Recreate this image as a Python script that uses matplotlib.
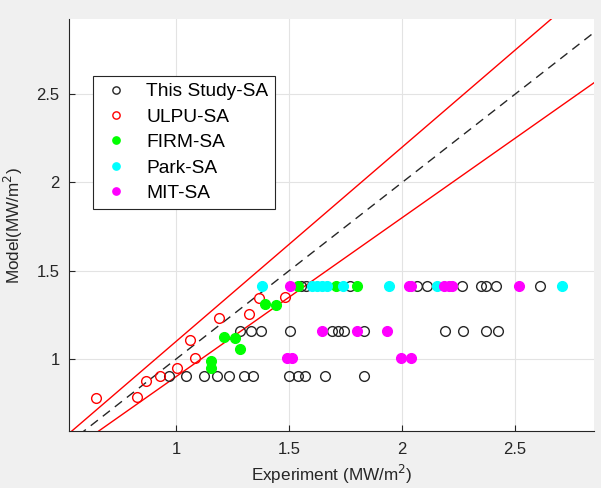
import matplotlib
matplotlib.use("Agg")
import matplotlib.pyplot as plt
import numpy as np

plt.rcParams['font.family'] = ['Liberation Sans', 'DejaVu Sans']

# --- data ---
this_x = [0.966, 1.043, 1.121, 1.180, 1.234, 1.300, 1.340, 1.498, 1.538, 1.569, 1.656, 1.830,
          1.281, 1.328, 1.375, 1.502, 1.691, 1.717, 1.742, 1.830, 2.189, 2.269, 2.370, 2.424,
          1.550, 1.576, 1.768, 2.066, 2.111, 2.263, 2.348, 2.373, 2.418, 2.610]
this_y = [0.90] * 12 + [1.155] * 12 + [1.41] * 10

ulpu_x = [0.645, 0.826, 0.866, 0.929, 1.003, 1.084, 1.062, 1.188, 1.322, 1.365, 1.483]
ulpu_y = [0.777, 0.781, 0.875, 0.900, 0.947, 1.006, 1.105, 1.230, 1.252, 1.344, 1.350]

firm_x = [1.154, 1.154, 1.210, 1.258, 1.281, 1.394, 1.439, 1.537, 1.705, 1.801]
firm_y = [0.947, 0.989, 1.121, 1.117, 1.057, 1.312, 1.306, 1.41, 1.41, 1.41]

park_x = [1.377, 1.601, 1.621, 1.643, 1.669, 1.736, 1.940, 2.156, 2.710]
park_y = [1.41] * 9

mit_x = [1.505, 2.030, 2.040, 2.185, 2.207, 2.222, 2.517,
         1.646, 1.798, 1.934,
         1.491, 1.513, 1.993, 2.040]
mit_y = [1.41] * 7 + [1.155] * 3 + [1.004] * 4

xticks = [1, 1.5, 2, 2.5]
yticks = [1, 1.5, 2, 2.5]
xlim = (0.525, 2.85)
ylim = (0.59, 2.925)

# --- figure ---
fig = plt.figure(figsize=(6.01, 4.88), dpi=100, facecolor='#f0f0f0')
ax = fig.add_axes([0.1153, 0.1168, 0.873, 0.8436])
ax.set_facecolor('white')

lx = np.array([0.3, 3.0])
ax.plot(lx, 1.1 * lx, color='red', lw=1.0, zorder=2)
ax.plot(lx, 0.9 * lx, color='red', lw=1.0, zorder=2)
ax.plot(lx, lx, color='#262626', lw=1.0, ls=(0, (6.5, 4.5)), zorder=2)

ms = 7.0
ax.plot(this_x, this_y, 'o', mfc='none', mec='#262626', mew=1.0, ms=ms, label='This Study-SA', zorder=3)
ax.plot(ulpu_x, ulpu_y, 'o', mfc='none', mec='red', mew=1.0, ms=ms, label='ULPU-SA', zorder=3)
ax.plot(firm_x, firm_y, 'o', mfc='#00ff00', mec='#00ff00', mew=1.0, ms=ms, label='FIRM-SA', zorder=3)
ax.plot(park_x, park_y, 'o', mfc='#00ffff', mec='#00ffff', mew=1.0, ms=ms, label='Park-SA', zorder=3)
ax.plot(mit_x, mit_y, 'o', mfc='#ff00ff', mec='#ff00ff', mew=1.0, ms=ms, label='MIT-SA', zorder=3)

ax.set_xlim(*xlim)
ax.set_ylim(*ylim)
ax.set_xticks(xticks)
ax.set_xticklabels(['1', '1.5', '2', '2.5'])
ax.set_yticks(yticks)
ax.set_yticklabels(['1', '1.5', '2', '2.5'])
ax.grid(True, color='#e3e3e3', lw=0.8, zorder=0)
ax.set_axisbelow(True)
ax.tick_params(direction='in', length=4, width=0.8, colors='#262626', labelsize=12, pad=8)
ax.tick_params(axis='y', pad=7)
for s in ['top', 'right']:
    ax.spines[s].set_visible(False)
for s in ['left', 'bottom']:
    ax.spines[s].set_color('#262626')
    ax.spines[s].set_linewidth(0.8)

ax.set_xlabel('Experiment (MW/m$^2$)', fontsize=12.3, color='#262626', labelpad=4)
ax.set_ylabel('Model(MW/m$^2$)', fontsize=12.3, color='#262626')
ax.yaxis.set_label_coords(-0.084, 0.5)

leg = ax.legend(loc='upper left', bbox_to_anchor=(0.0446, 0.862), borderaxespad=0,
                fontsize=13.8, frameon=True, fancybox=False, edgecolor='#262626',
                framealpha=1, labelspacing=0.42, handlelength=1.7, handletextpad=0.75,
                borderpad=0.35, markerscale=0.75)
leg.get_frame().set_linewidth(0.8)

fig.savefig('out.png', dpi=100, facecolor=fig.get_facecolor())
